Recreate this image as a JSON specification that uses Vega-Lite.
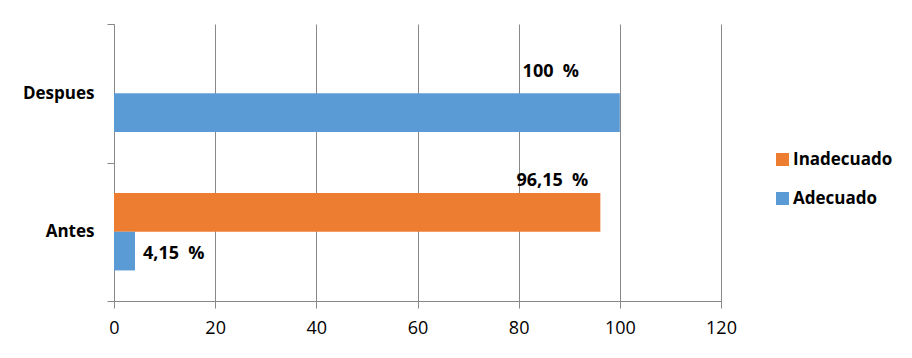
{
  "$schema": "https://vega.github.io/schema/vega-lite/v6.json",
  "autosize": {"type": "none"},
  "padding": {"left": 114, "top": 24, "right": 191, "bottom": 57},
  "width": 607,
  "height": 277,
  "background": "white",
  "config": {
    "view": {"stroke": null},
    "font": "Open Sans"
  },
  "data": {
    "values": [
      {"momento": "Despues", "serie": "Inadecuado", "valor": 0, "etiqueta": ""},
      {"momento": "Despues", "serie": "Adecuado", "valor": 100, "etiqueta": "100\u00a0\u00a0%"},
      {"momento": "Antes", "serie": "Inadecuado", "valor": 96.15, "etiqueta": "96,15\u00a0\u00a0%"},
      {"momento": "Antes", "serie": "Adecuado", "valor": 4.15, "etiqueta": "4,15\u00a0\u00a0%"}
    ]
  },
  "encoding": {
    "y": {
      "field": "momento",
      "type": "nominal",
      "sort": ["Despues", "Antes"],
      "scale": {"paddingInner": 0, "paddingOuter": 0},
      "axis": {
        "title": null,
        "tickBand": "extent",
        "domainColor": "#888888",
        "tickColor": "#888888",
        "tickSize": 7,
        "labelFontSize": 17,
        "labelFontWeight": "bold",
        "labelColor": "#000000",
        "labelPadding": 13,
        "grid": false
      }
    },
    "yOffset": {
      "field": "serie",
      "type": "nominal",
      "sort": ["Inadecuado", "Adecuado"],
      "scale": {"paddingInner": 0, "paddingOuter": 0.79}
    },
    "x": {
      "field": "valor",
      "type": "quantitative",
      "scale": {"domain": [0, 120], "nice": false},
      "axis": {
        "title": null,
        "values": [0, 20, 40, 60, 80, 100, 120],
        "grid": true,
        "gridColor": "#888888",
        "gridOpacity": 1,
        "domainColor": "#888888",
        "tickColor": "#888888",
        "tickSize": 7,
        "labelFontSize": 18,
        "labelColor": "#000000",
        "labelPadding": 11,
        "labelFlush": false
      }
    }
  },
  "layer": [
    {
      "mark": {"type": "bar"},
      "encoding": {
        "color": {
          "field": "serie",
          "type": "nominal",
          "sort": ["Inadecuado", "Adecuado"],
          "scale": {"domain": ["Inadecuado", "Adecuado"], "range": ["#ED7D31", "#5B9BD5"]},
          "legend": {
            "title": null,
            "orient": "none",
            "legendX": 660,
            "legendY": 127,
            "symbolType": "square",
            "symbolSize": 170,
            "symbolStrokeWidth": 0,
            "labelFontSize": 17,
            "labelFontWeight": "bold",
            "labelColor": "#000000",
            "rowPadding": 21,
            "labelOffset": 2
          }
        }
      }
    },
    {
      "transform": [{"filter": "datum.momento === 'Despues' && datum.serie === 'Adecuado'"}],
      "mark": {"type": "text", "fontSize": 18, "fontWeight": "bold", "color": "#000000", "align": "center", "baseline": "middle", "dx": -69, "dy": -41},
      "encoding": {"text": {"field": "etiqueta"}}
    },
    {
      "transform": [{"filter": "datum.momento === 'Antes' && datum.serie === 'Inadecuado'"}],
      "mark": {"type": "text", "fontSize": 18, "fontWeight": "bold", "color": "#000000", "align": "center", "baseline": "middle", "dx": -48, "dy": -31},
      "encoding": {"text": {"field": "etiqueta"}}
    },
    {
      "transform": [{"filter": "datum.momento === 'Antes' && datum.serie === 'Adecuado'"}],
      "mark": {"type": "text", "fontSize": 18, "fontWeight": "bold", "color": "#000000", "align": "left", "baseline": "middle", "dx": 8, "dy": 3},
      "encoding": {"text": {"field": "etiqueta"}}
    }
  ]
}
